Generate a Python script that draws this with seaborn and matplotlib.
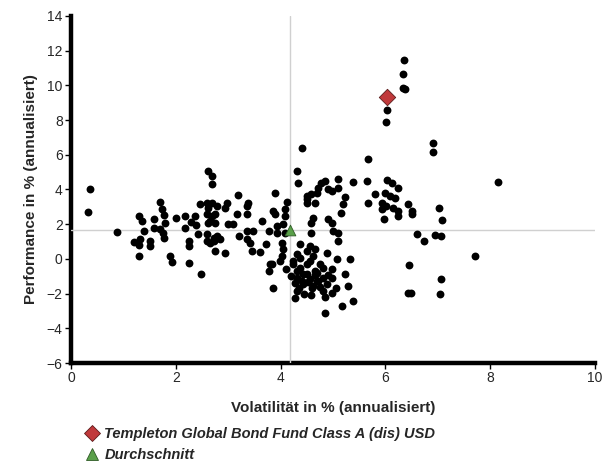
import matplotlib
matplotlib.use("Agg")
import matplotlib.pyplot as plt
import seaborn as sns
import pandas as pd
from matplotlib.lines import Line2D

# Fonds-Universum: Volatilität / Performance (annualisiert)
vol = [
    0.36, 0.33, 0.88, 1.30, 1.35, 1.32, 1.30, 1.51, 1.51, 1.30,
    1.70, 1.73, 1.77, 1.59, 1.79, 1.59, 1.70, 1.76, 1.78, 1.89,
    1.92, 2.18, 2.18, 2.37, 2.39, 2.43, 2.26, 2.26, 2.26, 2.49,
    2.62, 2.70, 2.70, 2.46, 2.59, 2.69, 2.59, 2.70, 2.62, 2.75,
    2.59, 2.72, 2.78, 2.75, 3.19, 3.38, 3.35, 2.97, 2.94, 3.16,
    3.35, 3.64, 3.89, 4.13, 3.86, 3.89, 4.08, 4.08, 4.31, 4.34,
    4.50, 4.50, 4.59, 2.62, 2.75, 2.78, 2.65, 3.00, 3.10, 3.35,
    3.48, 3.77, 3.93, 4.05, 4.08, 2.59, 2.72, 2.65, 2.84, 3.35,
    3.42, 3.73, 2.94, 3.45, 4.02, 4.05, 4.02, 4.37, 4.50, 4.37,
    4.56, 4.66, 4.24, 3.99, 3.80, 3.77, 4.31, 4.50, 4.66, 4.40,
    4.50, 4.66, 4.78, 4.85, 4.72, 4.69, 4.91, 4.98, 5.10, 5.10,
    5.39, 5.64, 5.67, 5.67, 5.23, 5.20, 5.15, 4.62, 4.59, 4.91,
    4.98, 4.59, 5.01, 5.10, 5.10, 3.93, 4.56, 4.31, 4.62, 4.88,
    5.07, 5.32, 4.24, 4.37, 4.50, 4.75, 4.81, 4.69, 4.43, 4.31,
    4.56, 4.81, 4.98, 4.98, 4.88, 4.98, 4.81, 4.62, 4.43, 4.31,
    4.27, 5.23, 5.29, 5.39, 5.17, 4.85, 3.86, 3.83, 6.91, 6.91,
    6.04, 6.12, 6.25, 5.80, 5.99, 6.09, 6.18, 5.93, 6.02, 6.15,
    6.25, 5.93, 6.25, 5.97, 6.44, 6.50, 6.50, 7.03, 7.09, 6.60,
    6.74, 6.95, 7.07, 7.71, 6.45, 7.06, 6.44, 6.49, 7.04, 6.36,
    6.33, 6.34, 6.37, 6.04, 6.01, 8.15, 4.70, 4.40, 4.90, 4.60,
    4.20, 4.10, 1.40, 1.20, 2.00, 2.30, 3.60, 3.20, 4.53, 4.75,
    4.35, 4.65, 4.85, 4.45, 4.72, 4.28, 5.05, 4.58,
]
perf = [
    4.02, 2.71, 1.56, 2.48, 2.19, 1.14, 0.81, 1.04, 0.75, 0.17,
    3.30, 2.86, 2.54, 2.29, 2.09, 1.80, 1.73, 1.52, 1.19, 0.17,
    -0.16, 2.48, 1.80, 2.48, 1.94, 1.42, 1.04, 0.75, -0.25, -0.85,
    5.07, 4.78, 4.34, 3.19, 3.25, 3.25, 2.58, 2.48, 2.09, 2.09,
    1.04, 1.04, 1.33, 0.46, 3.67, 3.25, 3.05, 3.25, 2.96, 2.58,
    2.61, 2.19, 3.82, 3.29, 2.77, 2.58, 2.86, 2.48, 5.07, 4.40,
    3.63, 3.25, 3.73, 2.96, 2.58, 3.05, 2.19, 2.00, 2.00, 1.61,
    1.61, 1.61, 1.90, 2.00, 1.52, 1.42, 1.23, 0.94, 1.14, 1.14,
    0.94, 0.85, 0.36, 0.46, 0.94, 0.56, 0.17, 0.85, 0.46, 0.07,
    -0.12, 0.56, -0.12, -0.12, -0.31, -0.69, -0.69, -0.88, -0.69, 6.38,
    3.44, 3.25, 4.40, 4.50, 4.11, 3.82, 4.02, 3.92, 4.59, 4.11,
    4.46, 4.50, 5.75, 3.25, 3.57, 3.19, 2.67, 2.38, 2.09, 2.29,
    2.09, 1.52, 1.61, 1.52, 1.04, 1.52, 0.75, 0.27, 0.17, 0.36,
    -0.02, -0.02, -0.31, -0.50, -0.31, -0.31, -0.50, -0.79, -0.88, -1.08,
    -1.17, -1.08, -0.59, -1.08, -1.46, -1.94, -1.84, -1.56, -1.46, -1.84,
    -2.23, -0.88, -1.56, -2.42, -2.71, -3.10, -1.65, -0.31, 6.70, 6.17,
    4.54, 4.40, 4.11, 3.76, 3.82, 3.63, 3.53, 3.25, 3.05, 2.96,
    2.77, 2.86, 2.48, 2.29, 3.19, 2.77, 2.58, 2.96, 2.25, 1.42,
    1.04, 1.38, 1.33, 0.17, -0.35, -1.17, -1.94, -1.94, -2.00, 11.47,
    10.68, 9.87, 9.80, 8.61, 7.91, 4.44, -1.30, -1.25, -0.95, -1.70,
    -1.00, -0.60, 1.60, 0.95, 2.35, 2.10, 0.40, 1.30, -1.35, -1.60,
    -1.65, -0.95, -2.20, -2.00, -1.25, -1.40, -1.70, -2.10,
]

fund_name = "Templeton Global Bond Fund Class A (dis) USD"
fund_vol = [6.04]
fund_perf = [9.32]
avg_name = "Durchschnitt"
avg_vol = [4.18]
avg_perf = [1.67]

sns.set_style("white")
plt.rcParams["font.family"] = ["Liberation Sans", "DejaVu Sans"]

df = pd.DataFrame({"vol": vol, "perf": perf})

fig = plt.figure(figsize=(6.14, 4.66), dpi=100)
ax = fig.add_axes([0.1156, 0.221, 0.8534, 0.7447])

sns.scatterplot(data=df, x="vol", y="perf", ax=ax, color="black",
                s=32, linewidth=0, zorder=3, legend=False)

# Fadenkreuz am Durchschnitt
ax.axvline(avg_vol[0], color="#d0d0d0", lw=1, zorder=2.6)
ax.axhline(avg_perf[0], color="#d0d0d0", lw=1, zorder=2.6)

ax.scatter(fund_vol, fund_perf, marker="D", s=70, color="#c0393b",
           edgecolor="#5a1a1a", linewidth=0.6, zorder=4)
ax.scatter(avg_vol, avg_perf, marker="^", s=60, color="#5aa04a",
           edgecolor="#2e5a25", linewidth=0.6, zorder=4)

ax.set_xlim(0, 10)
ax.set_ylim(-6, 14)
ax.set_xticks(range(0, 11, 2))
ax.set_yticks(range(-6, 15, 2))

for side in ["top", "right"]:
    ax.spines[side].set_visible(False)
for side in ["left", "bottom"]:
    ax.spines[side].set_linewidth(3.2)
    ax.spines[side].set_color("black")

ax.tick_params(axis="both", direction="out", length=4, width=1,
               color="black", labelsize=10, pad=2, left=True, bottom=True)

ax.set_xlabel("Volatilität in % (annualisiert)", fontsize=11,
              fontweight="bold", labelpad=11)
ax.set_ylabel("Performance in % (annualisiert)", fontsize=11,
              fontweight="bold", labelpad=6)

handles = [
    Line2D([], [], marker="D", linestyle="none", markersize=8,
           markerfacecolor="#c0393b", markeredgecolor="#5a1a1a",
           markeredgewidth=0.6, label=fund_name),
    Line2D([], [], marker="^", linestyle="none", markersize=8,
           markerfacecolor="#5aa04a", markeredgecolor="#2e5a25",
           markeredgewidth=0.6, label=avg_name),
]
fig.legend(handles=handles, loc="upper left", bbox_to_anchor=(0.138, 0.083),
           frameon=False, handletextpad=0.35, handlelength=1.0,
           labelspacing=0.45, borderaxespad=0, borderpad=0,
           prop={"style": "italic", "weight": "bold", "size": 10.5})

fig.savefig("out.png", dpi=100)
